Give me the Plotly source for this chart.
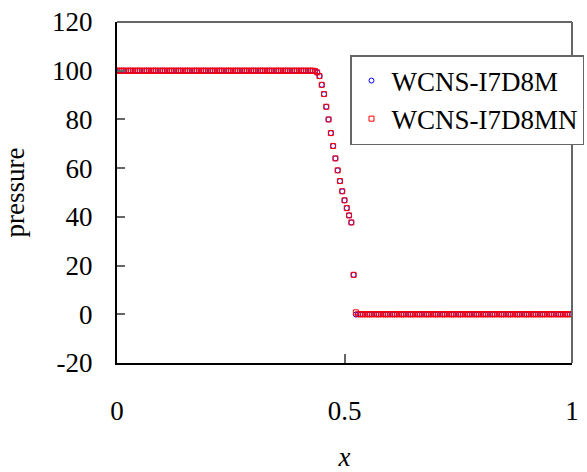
import plotly.graph_objects as go

# grid of 201 points, dx = 0.005
x_grid = [round(i * 0.005, 3) for i in range(201)]

# pressure values
left_state = [100.0] * 87                       # x = 0 .. 0.43
fan_m = [99.9, 99.3, 97.8, 94.2, 90.4, 85.2, 80.0, 74.4, 69.1, 64.0,
         59.1, 54.7, 50.5, 46.8, 43.6, 40.6, 37.7, 16.2, -0.1]   # x = 0.435 .. 0.525
fan_mn = [99.9, 99.3, 97.8, 94.2, 90.4, 85.2, 80.0, 74.4, 69.1, 64.0,
          59.1, 54.7, 50.5, 46.8, 43.6, 40.6, 37.7, 16.2, 0.8]
right_state = [0.01] * 95                       # x = 0.53 .. 1

p_m = left_state + fan_m + right_state
p_mn = left_state + fan_mn + right_state

x_ticks = [0, 0.5, 1]
x_tick_text = ["0", "0.5", "1"]
y_ticks = [-20, 0, 20, 40, 60, 80, 100, 120]
y_tick_text = ["-20", "0", "20", "40", "60", "80", "100", "120"]

FONT = "Liberation Serif"

fig = go.Figure()
fig.add_trace(go.Scatter(
    x=x_grid, y=p_m, mode="markers", name="WCNS-I7D8M",
    marker=dict(symbol="circle-open", size=5, color="#0000ff",
                line=dict(width=1, color="#0000ff")),
    legendgroup="a",
))
fig.add_trace(go.Scatter(
    x=x_grid, y=p_mn, mode="markers", name="WCNS-I7D8MN",
    marker=dict(symbol="square-open", size=5, color="#ff0000",
                line=dict(width=1, color="#ff0000")),
    legendgroup="b",
))

fig.update_layout(
    width=587, height=472,
    margin=dict(l=117, r=15, t=22, b=109, autoexpand=False),
    paper_bgcolor="white", plot_bgcolor="white",
    font=dict(family=FONT, size=27, color="black"),
    showlegend=True,
    legend=dict(
        x=(350 - 117) / 455, y=(363 - 55) / 341, xanchor="left", yanchor="top",
        bgcolor="white", bordercolor="#666666", borderwidth=1.5,
        font=dict(family=FONT, size=27, color="black"),
        tracegroupgap=0, traceorder="grouped",
    ),
    xaxis=dict(
        range=[0, 1], tickvals=x_ticks, ticktext=x_tick_text,
        showgrid=False, zeroline=False,
        showline=True, linecolor="black", linewidth=2,
        ticks="inside", ticklen=9, tickwidth=1.5, tickcolor="#666666",
        ticklabelstandoff=23,
        title=dict(text="<i>x</i>", font=dict(family=FONT, size=27), standoff=24),
    ),
    yaxis=dict(
        range=[-20, 120], tickvals=y_ticks, ticktext=y_tick_text,
        showgrid=False, zeroline=False,
        showline=True, linecolor="black", linewidth=2,
        ticks="inside", ticklen=8, tickwidth=1.5, tickcolor="#666666",
        ticklabelstandoff=17,
        title=dict(text="pressure", font=dict(family=FONT, size=27), standoff=21),
    ),
    shapes=[
        dict(type="line", xref="paper", yref="paper", x0=0, x1=1, y0=1, y1=1,
             line=dict(color="#666666", width=2), layer="above"),
        dict(type="line", xref="paper", yref="paper", x0=1, x1=1, y0=0, y1=1,
             line=dict(color="#666666", width=2), layer="above"),
    ],
)

fig.write_html("out.html")
